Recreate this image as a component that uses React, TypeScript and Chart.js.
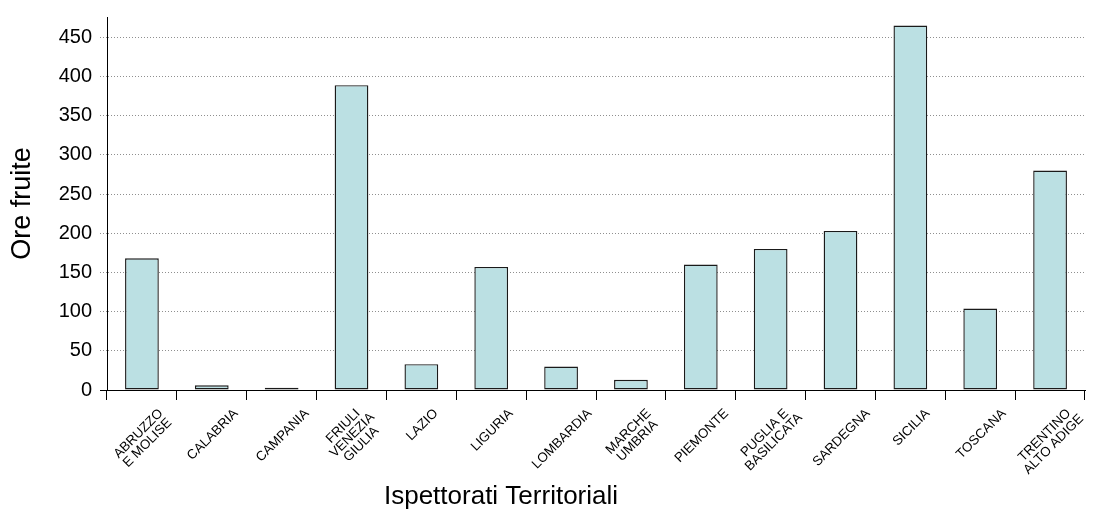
import React, { useEffect, useRef } from 'react';
import { Chart, registerables } from 'chart.js';

Chart.register(...registerables);

// ---- data ----
const categories: string[][] = [
  ['ABRUZZO', 'E MOLISE'],
  ['CALABRIA'],
  ['CAMPANIA'],
  ['FRIULI', 'VENEZIA', 'GIULIA'],
  ['LAZIO'],
  ['LIGURIA'],
  ['LOMBARDIA'],
  ['MARCHE', 'UMBRIA'],
  ['PIEMONTE'],
  ['PUGLIA E', 'BASILICATA'],
  ['SARDEGNA'],
  ['SICILIA'],
  ['TOSCANA'],
  ['TRENTINO', 'ALTO ADIGE'],
];
const oreFruite: number[] = [168, 6, 3, 389, 33, 157, 30, 13, 160, 180, 203, 465, 104, 280];
const yTicks: number[] = [0, 50, 100, 150, 200, 250, 300, 350, 400, 450];
const yTitle = 'Ore fruite';
const xTitle = 'Ispettorati Territoriali';

const FONT = '"Liberation Sans", Arial, Helvetica, sans-serif';
const LABEL_SIZE = 13.3;
const LABEL_LH = 12.8;
const LABEL_CAP = 9.5;

const labelPlugin = {
  id: 'rotatedLabels',
  afterDraw(chart: any) {
    const xs = chart.scales.x;
    const ctx = chart.ctx as CanvasRenderingContext2D;
    const c = Math.SQRT1_2;
    const top = xs.top + 18;
    ctx.save();
    ctx.fillStyle = '#000';
    ctx.textAlign = 'center';
    ctx.textBaseline = 'middle';
    ctx.font = `${LABEL_SIZE}px ${FONT}`;
    categories.forEach((lines, i) => {
      const cx = xs.getPixelForValue(i) + 1;
      const n = lines.length;
      let minX = Infinity, maxX = -Infinity, minY = Infinity;
      lines.forEach((ln, j) => {
        const w = ctx.measureText(ln).width;
        const yc = (j - (n - 1) / 2) * LABEL_LH;
        for (const lx of [-w / 2, w / 2]) {
          for (const ly of [yc - LABEL_CAP / 2, yc + LABEL_CAP / 2]) {
            const wx = c * (lx + ly);
            const wy = c * (ly - lx);
            if (wx < minX) minX = wx;
            if (wx > maxX) maxX = wx;
            if (wy < minY) minY = wy;
          }
        }
      });
      const ox = cx - (minX + maxX) / 2;
      const oy = top - minY;
      ctx.save();
      ctx.translate(ox, oy);
      ctx.rotate(-Math.PI / 4);
      lines.forEach((ln, j) => {
        ctx.fillText(ln, 0, (j - (n - 1) / 2) * LABEL_LH);
      });
      ctx.restore();
    });
    ctx.font = `26px ${FONT}`;
    ctx.fillText(xTitle, 501, 497);
    ctx.restore();
  },
};

export default function App() {
  const ref = useRef<HTMLCanvasElement | null>(null);

  useEffect(() => {
    if (!ref.current) return;
    Chart.defaults.font.family = FONT;
    const chart = new Chart(ref.current, {
      type: 'bar',
      data: {
        labels: categories.map((c) => c.join(' ')),
        datasets: [
          {
            data: oreFruite,
            backgroundColor: '#BBE0E3',
            borderColor: '#1a1a1a',
            borderWidth: 1.4,
            borderSkipped: false,
            barPercentage: 0.483,
            categoryPercentage: 1,
          },
        ],
      },
      options: {
        animation: false,
        responsive: true,
        maintainAspectRatio: false,
        layout: { padding: { top: 17, right: 10, left: 0, bottom: 0 } },
        plugins: { legend: { display: false }, tooltip: { enabled: false } },
        scales: {
          x: {
            offset: true,
            grid: {
              display: true,
              offset: true,
              drawOnChartArea: false,
              drawTicks: true,
              tickLength: 10,
              color: '#000',
              lineWidth: 1,
            },
            border: { display: true, color: '#000', width: 1 },
            ticks: { display: false },
            afterFit: (s: any) => {
              s.height = 125;
            },
          },
          y: {
            min: 0,
            max: 476,
            afterBuildTicks: (s: any) => {
              s.ticks = yTicks.map((v) => ({ value: v }));
            },
            ticks: {
              color: '#000',
              padding: 8,
              font: { size: 20, family: FONT },
            },
            grid: {
              color: (ctx: any) => (ctx.tick && ctx.tick.value === 0 ? '#000' : '#8f8f8f'),
              tickColor: (ctx: any) => (ctx.tick && ctx.tick.value === 0 ? '#000' : '#8f8f8f'),
              lineWidth: 1,
              tickLength: 7,
              tickBorderDash: (ctx: any) => (ctx.tick && ctx.tick.value === 0 ? [] : [1, 2]),
            },
            border: {
              display: true,
              color: '#000',
              width: 1,
              dash: (ctx: any) => (ctx.tick && ctx.tick.value === 0 ? [] : [1, 2]),
            },
            title: {
              display: true,
              text: yTitle,
              color: '#000',
              font: { size: 27, family: FONT },
              padding: { top: 6, bottom: 0 },
            },
            afterFit: (s: any) => {
              s.width = 107;
              s.paddingTop = 0;
              s.paddingBottom = 0;
            },
          },
        },
      },
      plugins: [labelPlugin],
    } as any);
    return () => chart.destroy();
  }, []);

  return (
    <div style={{ position: 'fixed', left: 0, top: 0, width: 1095, height: 515, background: '#fff' }}>
      <canvas ref={ref} />
    </div>
  );
}
